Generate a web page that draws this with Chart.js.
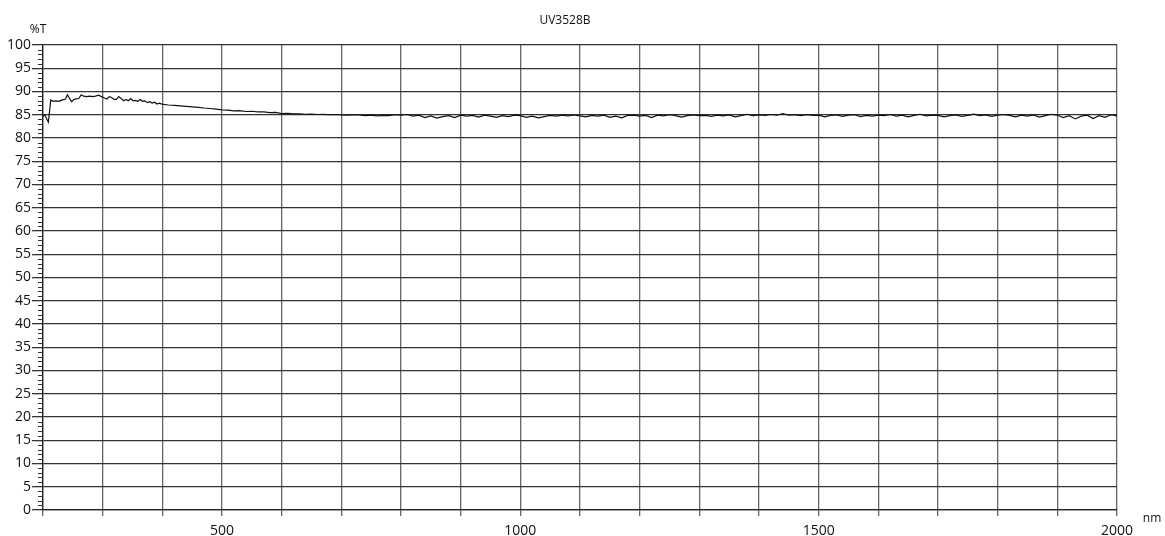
<!DOCTYPE html>
<html>
<head>
<meta charset="utf-8">
<script src="https://cdn.jsdelivr.net/npm/chart.js@4"></script>
<style>
html,body{margin:0;padding:0;background:#fff;}
#wrap{width:1165px;height:536px;position:relative;}
</style>
</head>
<body>
<div id="wrap"><canvas id="c" width="1165" height="536"></canvas></div>
<script>
const chartTitle = "UV3528B";
const yAxisTitle = "%T";
const xAxisTitle = "nm";
const xMin = 200, xMax = 2000, xStep = 100, xLabelEvery = 500;
const yMin = 0, yMax = 100, yStep = 5, yMinorStep = 1;

const wavelength = [
200,203,206,209,213,217,222,227,232,237,241,245,248,252,256,260,264,268,273,278,283,288,293,298,
303,307,311,315,319,323,327,331,335,339,343,347,351,355,359,363,367,371,375,379,383,387,391,395,399,
410,420,430,440,450,460,470,480,490,500,510,520,530,540,550,560,570,580,590,600,610,620,630,640,650,660,670,680,690,700,
710,720,730,740,750,760,770,780,790,800,810,820,830,840,850,860,870,880,890,900,
910,920,930,940,950,960,970,980,990,1000,1010,1020,1030,1040,1050,1060,1070,1080,1090,1100,
1110,1120,1130,1140,1150,1160,1170,1180,1190,1200,1210,1220,1230,1240,1250,1260,1270,1280,1290,1300,
1310,1320,1330,1340,1350,1360,1370,1380,1390,1400,1410,1420,1430,1440,1450,1460,1470,1480,1490,1500,
1510,1520,1530,1540,1550,1560,1570,1580,1590,1600,1610,1620,1630,1640,1650,1660,1670,1680,1690,1700,
1710,1720,1730,1740,1750,1760,1770,1780,1790,1800,1810,1820,1830,1840,1850,1860,1870,1880,1890,1900,
1910,1920,1930,1940,1950,1960,1970,1980,1990,2000
];
const transmittance = [
84.6,85.0,84.2,83.4,88.2,87.9,88.0,87.9,88.2,88.3,89.3,88.4,87.8,88.3,88.4,88.5,89.3,89.0,88.9,89.0,88.9,89.0,89.2,88.9,
88.6,88.4,88.9,88.7,88.3,88.3,88.9,88.5,88.0,88.3,88.0,88.5,88.0,88.1,87.9,88.3,87.9,88.0,87.6,87.8,87.5,87.7,87.3,87.5,87.3,
87.1,87.0,86.9,86.8,86.7,86.6,86.45,86.35,86.2,86.05,86.0,85.85,85.9,85.7,85.75,85.6,85.6,85.45,85.5,85.25,85.3,85.2,85.2,85.1,85.15,85.05,85.1,85.0,85.05,84.95,
84.9,85.0,84.95,84.8,84.9,84.75,84.85,84.8,85.0,84.9,85.05,84.7,84.9,84.4,84.75,84.3,84.6,84.8,84.4,84.9,
84.7,84.85,84.5,84.9,84.7,84.45,84.8,84.6,84.9,84.8,84.45,84.7,84.35,84.6,84.85,84.7,84.9,84.75,84.95,84.75,
84.55,84.85,84.7,84.9,84.45,84.7,84.35,84.85,84.9,84.7,84.85,84.4,84.9,84.75,85.0,84.8,84.5,84.8,84.95,84.8,
84.85,84.65,84.9,84.75,84.95,84.55,84.8,85.1,84.8,84.95,84.85,85.05,84.9,85.25,84.9,85.0,84.8,85.0,84.85,84.9,
84.55,84.85,84.95,84.65,84.9,85.0,84.6,84.85,84.7,84.9,84.8,85.05,84.7,84.9,84.55,84.85,85.1,84.75,84.9,84.85,
84.55,84.8,84.95,84.65,84.85,85.15,84.8,84.95,84.65,84.9,85.05,84.85,84.55,84.9,84.7,84.95,84.5,84.8,85.1,84.9,
84.4,84.8,84.1,84.7,84.9,84.2,84.8,84.45,85.0,84.75
];

const FONT = "'Open Sans', 'Noto Sans', sans-serif";

const decorPlugin = {
  id: 'decor',
  afterDraw(chart) {
    const ctx = chart.ctx;
    const y = chart.scales.y;
    const area = chart.chartArea;
    ctx.save();
    ctx.strokeStyle = '#333';
    ctx.lineWidth = 1;
    for (let v = yMin; v <= yMax; v += yMinorStep) {
      if (v % yStep === 0) continue;
      const py = Math.round(y.getPixelForValue(v)) + 0.5;
      ctx.beginPath();
      ctx.moveTo(area.left - 5, py);
      ctx.lineTo(area.left, py);
      ctx.stroke();
    }
    ctx.fillStyle = '#111';
    ctx.textBaseline = 'middle';
    ctx.textAlign = 'center';
    ctx.font = '12px ' + FONT;
    ctx.fillText(chartTitle, 565, 21);
    ctx.fillText(yAxisTitle, 38, 30);
    ctx.fillText(xAxisTitle, 1152, 519);
    ctx.restore();
  }
};

new Chart(document.getElementById('c'), {
  type: 'line',
  data: {
    datasets: [{
      data: wavelength.map((w, i) => ({x: w, y: transmittance[i]})),
      borderColor: '#111',
      borderWidth: 1.2,
      pointRadius: 0,
      tension: 0,
      fill: false
    }]
  },
  options: {
    responsive: false,
    animation: false,
    devicePixelRatio: 1,
    layout: { padding: { left: 0, right: 48, top: 45, bottom: 0 } },
    plugins: { legend: { display: false }, tooltip: { enabled: false }, title: { display: false } },
    scales: {
      x: {
        type: 'linear',
        min: xMin, max: xMax,
        afterFit(s) { s.height = 26; },
        ticks: {
          stepSize: xStep,
          autoSkip: false,
          maxRotation: 0,
          padding: 7,
          color: '#111',
          font: { family: FONT, size: 14 },
          callback: v => (v % xLabelEvery === 0 ? String(v) : '')
        },
        grid: { color: '#666', lineWidth: 1.3, tickLength: 6, tickColor: '#666' },
        border: { color: '#222', width: 1.3 }
      },
      y: {
        min: yMin, max: yMax,
        afterFit(s) { s.width = 43; },
        ticks: {
          stepSize: yStep,
          padding: 1,
          color: '#111',
          font: { family: FONT, size: 14 },
          callback: v => String(v)
        },
        grid: { color: '#333', lineWidth: 1.3, tickLength: 11, tickColor: '#333' },
        border: { color: '#222', width: 1.3 }
      }
    }
  },
  plugins: [decorPlugin]
});
</script>
</body>
</html>
